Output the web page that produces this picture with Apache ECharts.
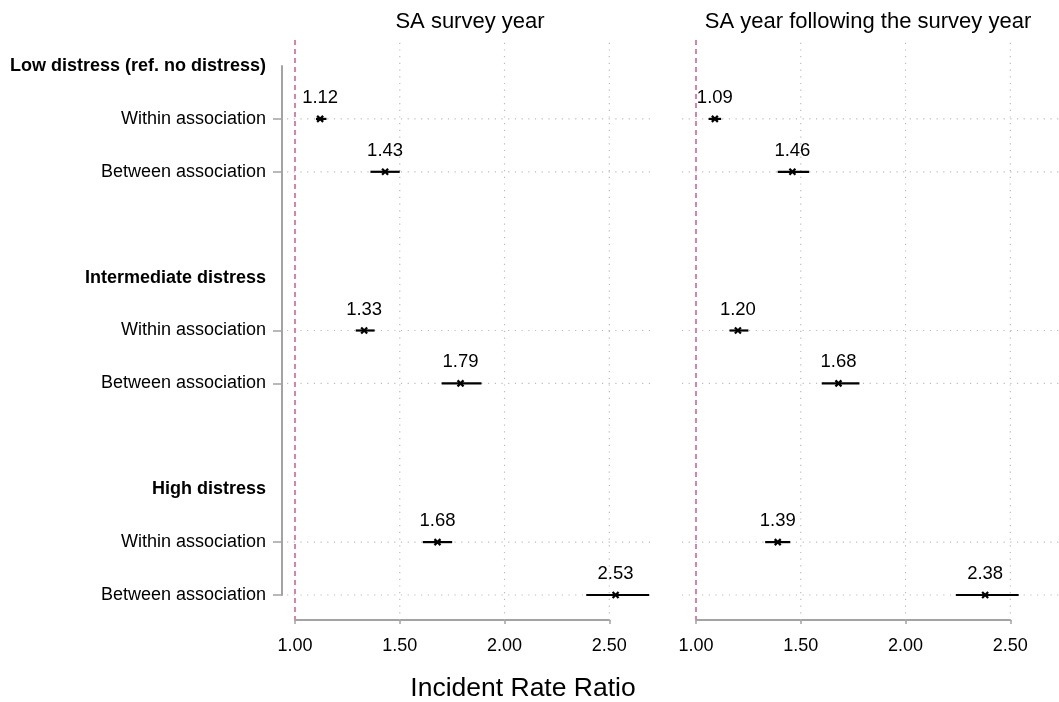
<!DOCTYPE html>
<html>
<head>
<meta charset="utf-8">
<title>Incident Rate Ratios by distress level</title>
<script src="https://cdn.jsdelivr.net/npm/echarts@6/dist/echarts.min.js"></script>
<style>
  html, body { margin: 0; padding: 0; background: #fff; }
  #chart { width: 1059px; height: 702px; }
</style>
</head>
<body>
<div id="chart"></div>
<script>
// Row labels, top to bottom (blank rows separate the distress groups)
const rowLabels = [
  'Low distress (ref. no distress)', 'Within association', 'Between association', '',
  'Intermediate distress', 'Within association', 'Between association', '',
  'High distress', 'Within association', 'Between association'
];
const headerRows = [0, 4, 8];
const estimateRows = [1, 2, 5, 6, 9, 10];

// SA survey year: IRR with 95% CI
const surveyEst = [1.12, 1.43, 1.33, 1.79, 1.68, 2.53];
const surveyLo  = [1.10, 1.36, 1.29, 1.70, 1.61, 2.39];
const surveyHi  = [1.15, 1.50, 1.38, 1.89, 1.75, 2.69];

// SA year following the survey year: IRR with 95% CI
const followEst = [1.09, 1.46, 1.20, 1.68, 1.39, 2.38];
const followLo  = [1.06, 1.39, 1.16, 1.60, 1.33, 2.24];
const followHi  = [1.12, 1.54, 1.25, 1.78, 1.45, 2.54];

const xTicks = [1.0, 1.5, 2.0, 2.5];
const refValue = 1.0;
const panelTitles = ['SA survey year', 'SA year following the survey year'];
const axisTitle = 'Incident Rate Ratio';

// extents of the plot region in data units (the axes cover 1.00–2.50, rows 0–10)
const rowSpanTop = -0.49, rowSpanBottom = 10.47;
const panelXSpan = [[0.962, 2.715], [0.933, 2.74]];

const FONT = '"Liberation Sans", Arial, Helvetica, sans-serif';
const AXIS_GRAY = '#a3a3a3';
const GRID_GRAY = '#bdbdbd';
const REF_PINK = '#d883ad';

function panelData(est, lo, hi) {
  return estimateRows.map((r, i) => [r, est[i], lo[i], hi[i]]);
}

// dotted row lines, dotted tick lines and the dashed reference line
function backgroundSeries(idx) {
  const items = [];
  estimateRows.forEach(r => items.push({ kind: 'h', value: [r, panelXSpan[idx][0], panelXSpan[idx][1]] }));
  xTicks.filter(t => t !== refValue).forEach(t => items.push({ kind: 'v', value: [t, rowSpanTop + 0.05, rowSpanBottom] }));
  items.push({ kind: 'ref', value: [refValue, rowSpanTop, rowSpanBottom] });
  return {
    type: 'custom',
    xAxisIndex: idx, yAxisIndex: idx,
    clip: false, silent: true, z: 1,
    data: items.map(d => d.value),
    renderItem(params, api) {
      const kind = items[params.dataIndex].kind;
      const a = api.value(0), b = api.value(1), c = api.value(2);
      let p1, p2, style;
      if (kind === 'h') {
        p1 = api.coord([b, a]); p2 = api.coord([c, a]);
        style = { stroke: GRID_GRAY, lineWidth: 1.2, lineDash: [1.2, 5.5] };
      } else if (kind === 'v') {
        p1 = api.coord([a, b]); p2 = api.coord([a, c]);
        style = { stroke: GRID_GRAY, lineWidth: 1.2, lineDash: [1.2, 5.5] };
      } else {
        p1 = api.coord([a, b]); p2 = api.coord([a, c]);
        style = { stroke: REF_PINK, lineWidth: 2, lineDash: [5, 4] };
      }
      return {
        type: 'line',
        z2: kind === 'ref' ? 5 : 1,
        shape: { x1: p1[0], y1: p1[1], x2: p2[0], y2: p2[1] },
        style
      };
    }
  };
}

// confidence interval, x marker and value label for each estimate
function estimateSeries(idx, data) {
  return {
    type: 'custom',
    xAxisIndex: idx, yAxisIndex: idx,
    clip: false, z: 5,
    encode: { x: [1, 2, 3], y: 0 },
    data,
    renderItem(params, api) {
      const row = api.value(0), est = api.value(1), lo = api.value(2), hi = api.value(3);
      const pLo = api.coord([lo, row]);
      const pHi = api.coord([hi, row]);
      const p = api.coord([est, row]);
      const s = 3;
      return {
        type: 'group',
        children: [
          { type: 'line', shape: { x1: pLo[0], y1: pLo[1], x2: pHi[0], y2: pHi[1] },
            style: { stroke: '#000', lineWidth: 2.2 } },
          { type: 'line', shape: { x1: p[0] - s, y1: p[1] - s, x2: p[0] + s, y2: p[1] + s },
            style: { stroke: '#000', lineWidth: 2.2 } },
          { type: 'line', shape: { x1: p[0] - s, y1: p[1] + s, x2: p[0] + s, y2: p[1] - s },
            style: { stroke: '#000', lineWidth: 2.2 } },
          { type: 'text', x: p[0], y: p[1] - 21,
            style: { text: est.toFixed(2), fill: '#000', font: '18.5px ' + FONT,
                     align: 'center', verticalAlign: 'middle' } }
        ]
      };
    }
  };
}

function xAxisFor(idx) {
  return {
    type: 'value', gridIndex: idx,
    min: xTicks[0], max: xTicks[xTicks.length - 1], interval: 0.5,
    offset: 25,
    axisLine: { show: true, onZero: false, lineStyle: { color: AXIS_GRAY, width: 2 } },
    axisTick: { show: true, length: 4, lineStyle: { color: AXIS_GRAY, width: 1.5 } },
    axisLabel: { show: true, margin: 17, color: '#000', fontSize: 18, fontFamily: FONT,
                 formatter: v => v.toFixed(2) },
    splitLine: { show: false }
  };
}

const option = {
  animation: false,
  backgroundColor: '#fff',
  textStyle: { fontFamily: FONT },
  grid: [
    { left: 295, width: 314.3, top: 66, height: 529, containLabel: false },
    { left: 696, width: 314.3, top: 66, height: 529, containLabel: false }
  ],
  xAxis: [xAxisFor(0), xAxisFor(1)],
  yAxis: [
    {
      type: 'value', gridIndex: 0, inverse: true, min: 0, max: rowLabels.length - 1, interval: 1,
      offset: 13,
      axisLine: { show: true, lineStyle: { color: AXIS_GRAY, width: 2 } },
      axisTick: { show: true, length: 9, customValues: estimateRows,
                  lineStyle: { color: AXIS_GRAY, width: 1.5 } },
      axisLabel: {
        show: true, margin: 16, color: '#000', fontSize: 18, fontFamily: FONT,
        customValues: rowLabels.map((t, i) => i).filter(i => rowLabels[i] !== ''),
        formatter: v => {
          const t = rowLabels[Math.round(v)] || '';
          if (!t) return '';
          return headerRows.indexOf(Math.round(v)) >= 0 ? '{h|' + t + '}' : t;
        },
        rich: { h: { fontWeight: 'bold', fontSize: 18, color: '#000', fontFamily: FONT } }
      },
      splitLine: { show: false }
    },
    {
      type: 'value', gridIndex: 1, inverse: true, min: 0, max: rowLabels.length - 1, interval: 1,
      axisLine: { show: false }, axisTick: { show: false }, axisLabel: { show: false },
      splitLine: { show: false }
    }
  ],
  graphic: [
    { type: 'text', x: 470, y: 22,
      style: { text: panelTitles[0], font: '22px ' + FONT, fill: '#000', align: 'center', verticalAlign: 'middle' } },
    { type: 'text', x: 868, y: 22,
      style: { text: panelTitles[1], font: '22px ' + FONT, fill: '#000', align: 'center', verticalAlign: 'middle' } },
    { type: 'text', x: 523, y: 689,
      style: { text: axisTitle, font: '26.5px ' + FONT, fill: '#000', align: 'center', verticalAlign: 'middle' } }
  ],
  series: [
    backgroundSeries(0),
    backgroundSeries(1),
    estimateSeries(0, panelData(surveyEst, surveyLo, surveyHi)),
    estimateSeries(1, panelData(followEst, followLo, followHi))
  ]
};

const chart = echarts.init(document.getElementById('chart'), null, { renderer: 'canvas' });
chart.setOption(option);
</script>
</body>
</html>
